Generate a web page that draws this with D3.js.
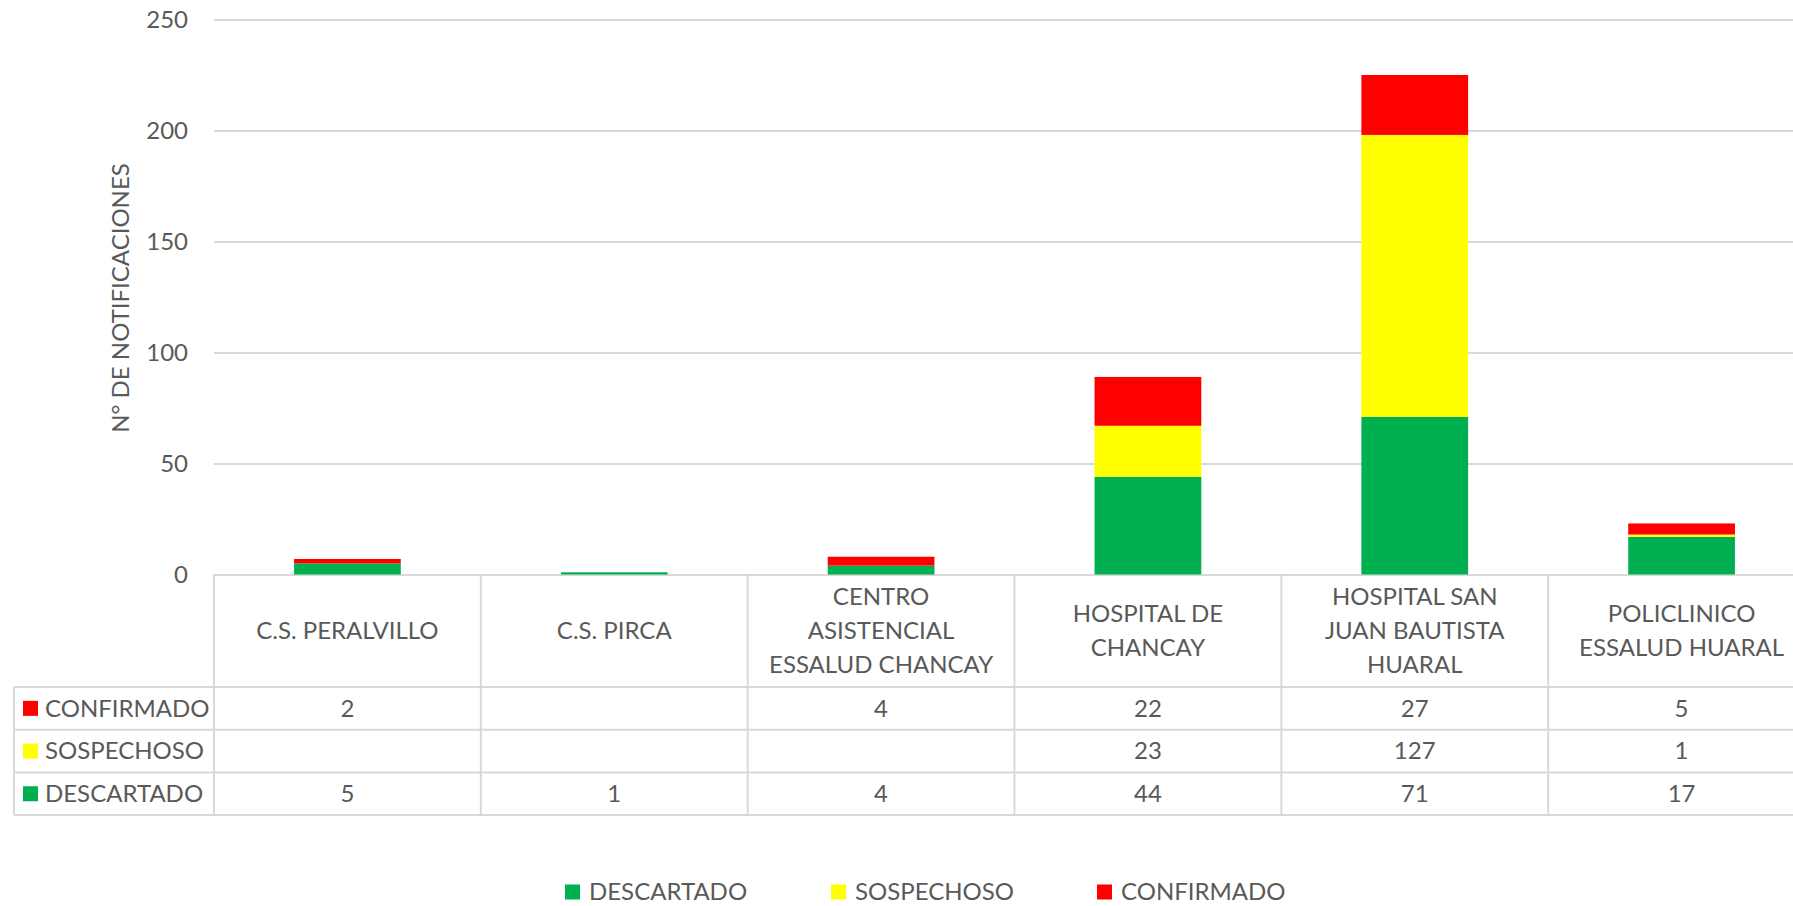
<!DOCTYPE html>
<html>
<head>
<meta charset="utf-8">
<script src="https://cdn.jsdelivr.net/npm/d3@7"></script>
<style>
    body{margin:0;background:#fff;}
    text{font-family:Lato, "Noto Sans", sans-serif;fill:#595959;}
</style>
</head>
<body>
<script>
//data
var categories = ["C.S. PERALVILLO", "C.S. PIRCA", "CENTRO\nASISTENCIAL\nESSALUD CHANCAY",
    "HOSPITAL DE\nCHANCAY", "HOSPITAL SAN\nJUAN BAUTISTA\nHUARAL", "POLICLINICO\nESSALUD HUARAL"];
var descartado = [5, 1, 4, 44, 71, 17];
var sospechoso = [null, null, null, 23, 127, 1];
var confirmado = [2, null, 4, 22, 27, 5];
var seriesNames = ["DESCARTADO", "SOSPECHOSO", "CONFIRMADO"];
var seriesColors = ["#00B050", "#FFFF00", "#FF0000"];
var yTicks = [0, 50, 100, 150, 200, 250];
var yTitle = "N° DE NOTIFICACIONES";

window.onload = function(){
    var w = 1793, h = 906;
    var gridColor = "#d9d9d9";

    var svg = d3.select("body")
        .append("svg")
        .attr("width", w)
        .attr("height", h);

    //rows for the stack generator
    var values = [descartado, sospechoso, confirmado];
    var rows = categories.map(function(c, i){
        var r = {cat: c};
        seriesNames.forEach(function(s, j){ r[s] = values[j][i] || 0; });
        return r;
    });
    var stacked = d3.stack().keys(seriesNames)(rows);

    //scales (plot is wider than the picture, the last column is cut on the right)
    var x = d3.scaleBand()
        .domain(categories)
        .range([214, 1815])
        .paddingInner(0.6)
        .paddingOuter(0.3);
    var step = x.step();
    var colLeft = function(c){ return 214 + categories.indexOf(c) * step; };

    var y = d3.scaleLinear()
        .domain([0, 250])
        .range([574.5, 19.5]);

    //gridlines
    var grid = svg.append("g")
        .attr("transform", "translate(214,0)")
        .call(d3.axisLeft(y).tickValues(yTicks).tickSize(-(1815 - 214)).tickFormat(""));
    grid.select(".domain").remove();
    grid.selectAll("line").attr("stroke", gridColor).attr("stroke-width", 2);

    //y axis labels
    var yAxis = svg.append("g")
        .attr("transform", "translate(188,0)")
        .call(d3.axisLeft(y).tickValues(yTicks).tickSize(0).tickPadding(0));
    yAxis.select(".domain").remove();
    yAxis.selectAll("text")
        .attr("font-size", 24)
        .attr("fill", "#595959")
        .style("font-family", "Lato");

    //y title
    svg.append("text")
        .attr("transform", "translate(129,298) rotate(-90)")
        .attr("text-anchor", "middle")
        .attr("font-size", 24)
        .text(yTitle);

    //stacked bars
    svg.selectAll(".series")
        .data(stacked)
        .enter()
        .append("g")
        .attr("class", "series")
        .attr("fill", function(d, i){ return seriesColors[i]; })
        .selectAll("rect")
        .data(function(d){ return d; })
        .enter()
        .append("rect")
        .attr("x", function(d){ return x(d.data.cat); })
        .attr("width", x.bandwidth())
        .attr("y", function(d){ return y(d[1]); })
        .attr("height", function(d){ return y(d[0]) - y(d[1]); });

    //data table
    var headTop = 574.5, headBottom = 687;
    var rowH = 42.7;
    var tableRows = [
        {name: "CONFIRMADO", vals: confirmado, color: seriesColors[2]},
        {name: "SOSPECHOSO", vals: sospechoso, color: seriesColors[1]},
        {name: "DESCARTADO", vals: descartado, color: seriesColors[0]}
    ];
    var tableBottom = headBottom + rowH * tableRows.length;

    var table = svg.append("g").attr("class", "table");

    //horizontal lines
    d3.range(tableRows.length + 1).forEach(function(i){
        table.append("line")
            .attr("x1", 14).attr("x2", 1815)
            .attr("y1", headBottom + i * rowH).attr("y2", headBottom + i * rowH)
            .attr("stroke", gridColor).attr("stroke-width", 2);
    });
    //vertical lines
    table.append("line")
        .attr("x1", 14).attr("x2", 14)
        .attr("y1", headBottom).attr("y2", tableBottom)
        .attr("stroke", gridColor).attr("stroke-width", 2);
    d3.range(categories.length + 1).forEach(function(i){
        table.append("line")
            .attr("x1", 214 + i * step).attr("x2", 214 + i * step)
            .attr("y1", headTop).attr("y2", tableBottom)
            .attr("stroke", gridColor).attr("stroke-width", 2);
    });

    //category headers
    var lineH = 34;
    categories.forEach(function(c){
        var lines = c.split("\n");
        var cx = colLeft(c) + step / 2;
        var cy = (headTop + headBottom) / 2 - (lines.length - 1) * lineH / 2;
        var t = table.append("text")
            .attr("text-anchor", "middle")
            .attr("font-size", 24);
        lines.forEach(function(l, k){
            t.append("tspan")
                .attr("x", cx)
                .attr("y", cy + k * lineH)
                .attr("dy", "0.35em")
                .text(l);
        });
    });

    //row labels with colour keys and values
    tableRows.forEach(function(r, i){
        var cy = headBottom + i * rowH + rowH / 2;
        table.append("rect")
            .attr("x", 23).attr("y", cy - 7.5)
            .attr("width", 15).attr("height", 15)
            .attr("fill", r.color);
        table.append("text")
            .attr("x", 45).attr("y", cy)
            .attr("dy", "0.35em")
            .attr("font-size", 24)
            .text(r.name);
        r.vals.forEach(function(v, j){
            if (v == null) return;
            table.append("text")
                .attr("x", colLeft(categories[j]) + step / 2)
                .attr("y", cy)
                .attr("dy", "0.35em")
                .attr("text-anchor", "middle")
                .attr("font-size", 24)
                .text(v);
        });
    });

    //legend at the bottom
    var legend = svg.selectAll(".legend")
        .data(seriesNames)
        .enter()
        .append("g")
        .attr("class", "legend")
        .attr("transform", function(d, i){ return "translate(" + (565 + i * 266) + ",892)"; });
    legend.append("rect")
        .attr("x", 0).attr("y", -7.5)
        .attr("width", 15).attr("height", 15)
        .attr("fill", function(d, i){ return seriesColors[i]; });
    legend.append("text")
        .attr("x", 24)
        .attr("dy", "0.35em")
        .attr("font-size", 24)
        .text(function(d){ return d; });
};
</script>
</body>
</html>
